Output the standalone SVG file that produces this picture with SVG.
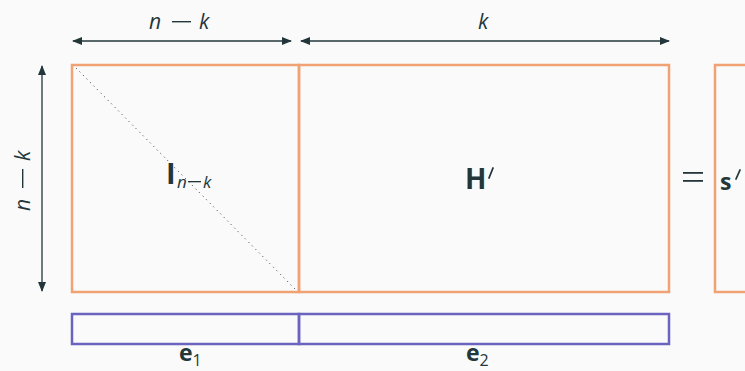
<svg xmlns="http://www.w3.org/2000/svg" width="745" height="371" viewBox="0 0 745 371">
<defs>
<marker id="ah" viewBox="0 0 10 10" refX="9" refY="5" markerWidth="10" markerHeight="10" markerUnits="userSpaceOnUse" orient="auto-start-reverse">
<path d="M0,1 L10,5 L0,9 Z" fill="#23373b"/>
</marker>
</defs>
<style>
.bg{fill:#fafafa}
.mat{fill:none;stroke:#f0a274;stroke-width:2.5}
.vec{fill:none;stroke:#6b63c0;stroke-width:2.5}
.dim{stroke:#23373b;stroke-width:1.3;fill:none}
.t{font-family:"Open Sans","Noto Sans",sans-serif;fill:#23373b}
.it{font-style:italic}
.b{font-weight:bold}
</style>
<rect class="bg" width="745" height="371"/>
<g id="connectors">
<line class="dim" x1="73" y1="41" x2="291" y2="41" marker-start="url(#ah)" marker-end="url(#ah)"/>
<line class="dim" x1="301" y1="41" x2="669" y2="41" marker-start="url(#ah)" marker-end="url(#ah)"/>
<line class="dim" x1="42" y1="66" x2="42" y2="291" marker-start="url(#ah)" marker-end="url(#ah)"/>
</g>
<g id="label-top-nk">
<text class="t it" x="149" y="29" font-size="21">n</text>
<rect x="172" y="21" width="19" height="1.4" fill="#23373b"/>
<text class="t it" x="199" y="29" font-size="21">k</text>
</g>
<g id="label-top-k"><text class="t it" x="478" y="29" font-size="21">k</text></g>
<g id="label-left-nk" transform="translate(30,178) rotate(-90)">
<text class="t it" x="-33" y="0" font-size="21">n</text>
<rect x="-10" y="-8" width="19" height="1.4" fill="#23373b"/>
<text class="t it" x="17" y="0" font-size="21">k</text>
</g>
<g id="identity">
<rect class="mat" x="72" y="65" width="227" height="227"/>
<line x1="76" y1="68" x2="296" y2="290" stroke="#23373b" stroke-width="1" stroke-dasharray="1,4"/>
<text class="t b" x="166" y="184" font-size="29">I</text>
<text class="t it" x="177" y="188" font-size="17">n</text>
<rect x="188" y="181" width="13" height="1.3" fill="#23373b"/>
<text class="t it" x="203" y="188" font-size="17">k</text>
</g>
<g id="H">
<rect class="mat" x="299" y="65" width="370" height="227"/>
<text class="t b" x="465" y="189" font-size="28">H</text>
<line x1="493" y1="168" x2="489" y2="178" stroke="#23373b" stroke-width="1.8" stroke-linecap="round"/>
</g>
<g id="equals">
<rect x="683" y="172" width="20" height="1.8" fill="#23373b"/>
<rect x="683" y="180" width="20" height="1.8" fill="#23373b"/>
</g>
<g id="s">
<rect class="mat" x="715" y="65" width="40" height="227"/>
<text class="t b" x="720" y="190" font-size="23">s</text>
<line x1="740" y1="170" x2="736" y2="179" stroke="#23373b" stroke-width="1.8" stroke-linecap="round"/>
</g>
<g id="e1">
<rect class="vec" x="72" y="314" width="227" height="30"/>
<text class="t b" x="179" y="361" font-size="23">e<tspan font-weight="normal" font-size="16" dy="5">1</tspan></text>
</g>
<g id="e2">
<rect class="vec" x="299" y="314" width="370" height="30"/>
<text class="t b" x="466" y="361" font-size="23">e<tspan font-weight="normal" font-size="16" dy="5">2</tspan></text>
</g>
</svg>
